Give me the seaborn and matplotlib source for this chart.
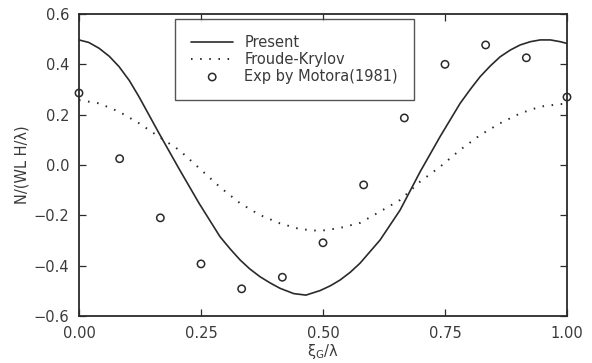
import numpy as np
import pandas as pd
import matplotlib
matplotlib.use("Agg")
import matplotlib.pyplot as plt
import seaborn as sns

# ---- data ----
present_x = [0.0, 0.02, 0.041, 0.062, 0.082, 0.103, 0.123, 0.164, 0.205, 0.246, 0.289, 0.31,
             0.33, 0.35, 0.371, 0.392, 0.412, 0.44, 0.465, 0.494, 0.515, 0.535, 0.556, 0.576,
             0.617, 0.658, 0.699, 0.74, 0.781, 0.802, 0.822, 0.843, 0.863, 0.884, 0.904,
             0.925, 0.945, 0.966, 0.986, 1.0]
present_y = [0.497, 0.487, 0.464, 0.432, 0.391, 0.336, 0.271, 0.126, -0.015, -0.152, -0.285, -0.334,
             -0.377, -0.413, -0.444, -0.469, -0.49, -0.511, -0.517, -0.499, -0.48, -0.457, -0.426, -0.39,
             -0.298, -0.179, -0.027, 0.113, 0.245, 0.301, 0.351, 0.394, 0.43, 0.457, 0.477,
             0.49, 0.497, 0.497, 0.49, 0.483]

fk_x = [0.0, 0.041, 0.082, 0.123, 0.164, 0.205, 0.246, 0.289, 0.33, 0.371, 0.412, 0.453,
        0.494, 0.535, 0.576, 0.617, 0.658, 0.699, 0.74, 0.781, 0.822, 0.863, 0.904, 0.945,
        0.986, 1.0]
fk_y = [0.258, 0.245, 0.212, 0.166, 0.112, 0.06, -0.012, -0.088, -0.152, -0.199, -0.232, -0.255,
        -0.262, -0.25, -0.23, -0.185, -0.139, -0.066, -0.007, 0.06, 0.119, 0.166, 0.205, 0.232,
        0.242, 0.243]

exp_x = [0.0, 0.0833, 0.1667, 0.25, 0.3333, 0.4167, 0.5, 0.5833, 0.6667, 0.75, 0.8333, 0.9167, 1.0]
exp_y = [0.286, 0.025, -0.21, -0.393, -0.492, -0.446, -0.309, -0.079, 0.187, 0.40, 0.477, 0.426, 0.27]

labels = ["Present", "Froude-Krylov", "Exp by Motora(1981)"]
x_ticks = [0.0, 0.25, 0.5, 0.75, 1.0]
x_ticklabels = ["0.00", "0.25", "0.50", "0.75", "1.00"]
y_ticks = [-0.6, -0.4, -0.2, 0.0, 0.2, 0.4, 0.6]
y_ticklabels = ["\u22120.6", "\u22120.4", "\u22120.2", "0.0", "0.2", "0.4", "0.6"]

# ---- styling ----
sns.set_theme(style="ticks")
plt.rcParams["font.family"] = ["DejaVu Sans"]
ink = "#2a2a2a"
txt = "#3a3a3a"

fig = plt.figure(figsize=(5.92, 3.63), dpi=100)
ax = fig.add_axes([79 / 592, 1 - 316 / 363, (567 - 79) / 592, (316 - 14) / 363])

df_p = pd.DataFrame({"x": present_x, "y": present_y})
df_f = pd.DataFrame({"x": fk_x, "y": fk_y})
df_e = pd.DataFrame({"x": exp_x, "y": exp_y})

sns.lineplot(data=df_p, x="x", y="y", ax=ax, color=ink, lw=1.2, label=labels[0], sort=False)
sns.lineplot(data=df_f, x="x", y="y", ax=ax, color=ink, lw=1.4, linestyle=(0, (0.8, 3.9)),
             label=labels[1], sort=False)
sns.scatterplot(data=df_e, x="x", y="y", ax=ax, marker="o", s=28, facecolors="none",
                edgecolors=ink, linewidths=1.1, label=labels[2], clip_on=False, zorder=5)

ax.set_xlim(0, 1)
ax.set_ylim(-0.6, 0.6)
ax.set_xticks(x_ticks)
ax.set_xticklabels(x_ticklabels)
ax.set_yticks(y_ticks)
ax.set_yticklabels(y_ticklabels)
ax.tick_params(direction="in", length=5, width=0.9, colors=ink, labelcolor=txt,
               labelsize=10.5, top=True, right=True)
ax.tick_params(axis="x", pad=7)
ax.tick_params(axis="y", pad=7)
for s in ax.spines.values():
    s.set_visible(True)
    s.set_color(ink)
    s.set_linewidth(1.3)

ax.set_xlabel(r"$\mathregular{\xi_G/\lambda}$", fontsize=10.5, color=txt, labelpad=1)
ax.set_ylabel("N/(WL H/\u03bb)", fontsize=10.5, color=txt, labelpad=3)

leg = ax.legend(loc="upper left", bbox_to_anchor=((175 - 79) / 488, (316 - 19) / 302),
                frameon=True, fancybox=False, fontsize=10.5, borderpad=1.1,
                labelspacing=0.13, handlelength=2.9, handletextpad=0.75,
                borderaxespad=0.0)
leg.get_frame().set_edgecolor(ink)
leg.get_frame().set_linewidth(1.0)
for t in leg.get_texts():
    t.set_color(txt)

fig.savefig("out.png", dpi=100)
